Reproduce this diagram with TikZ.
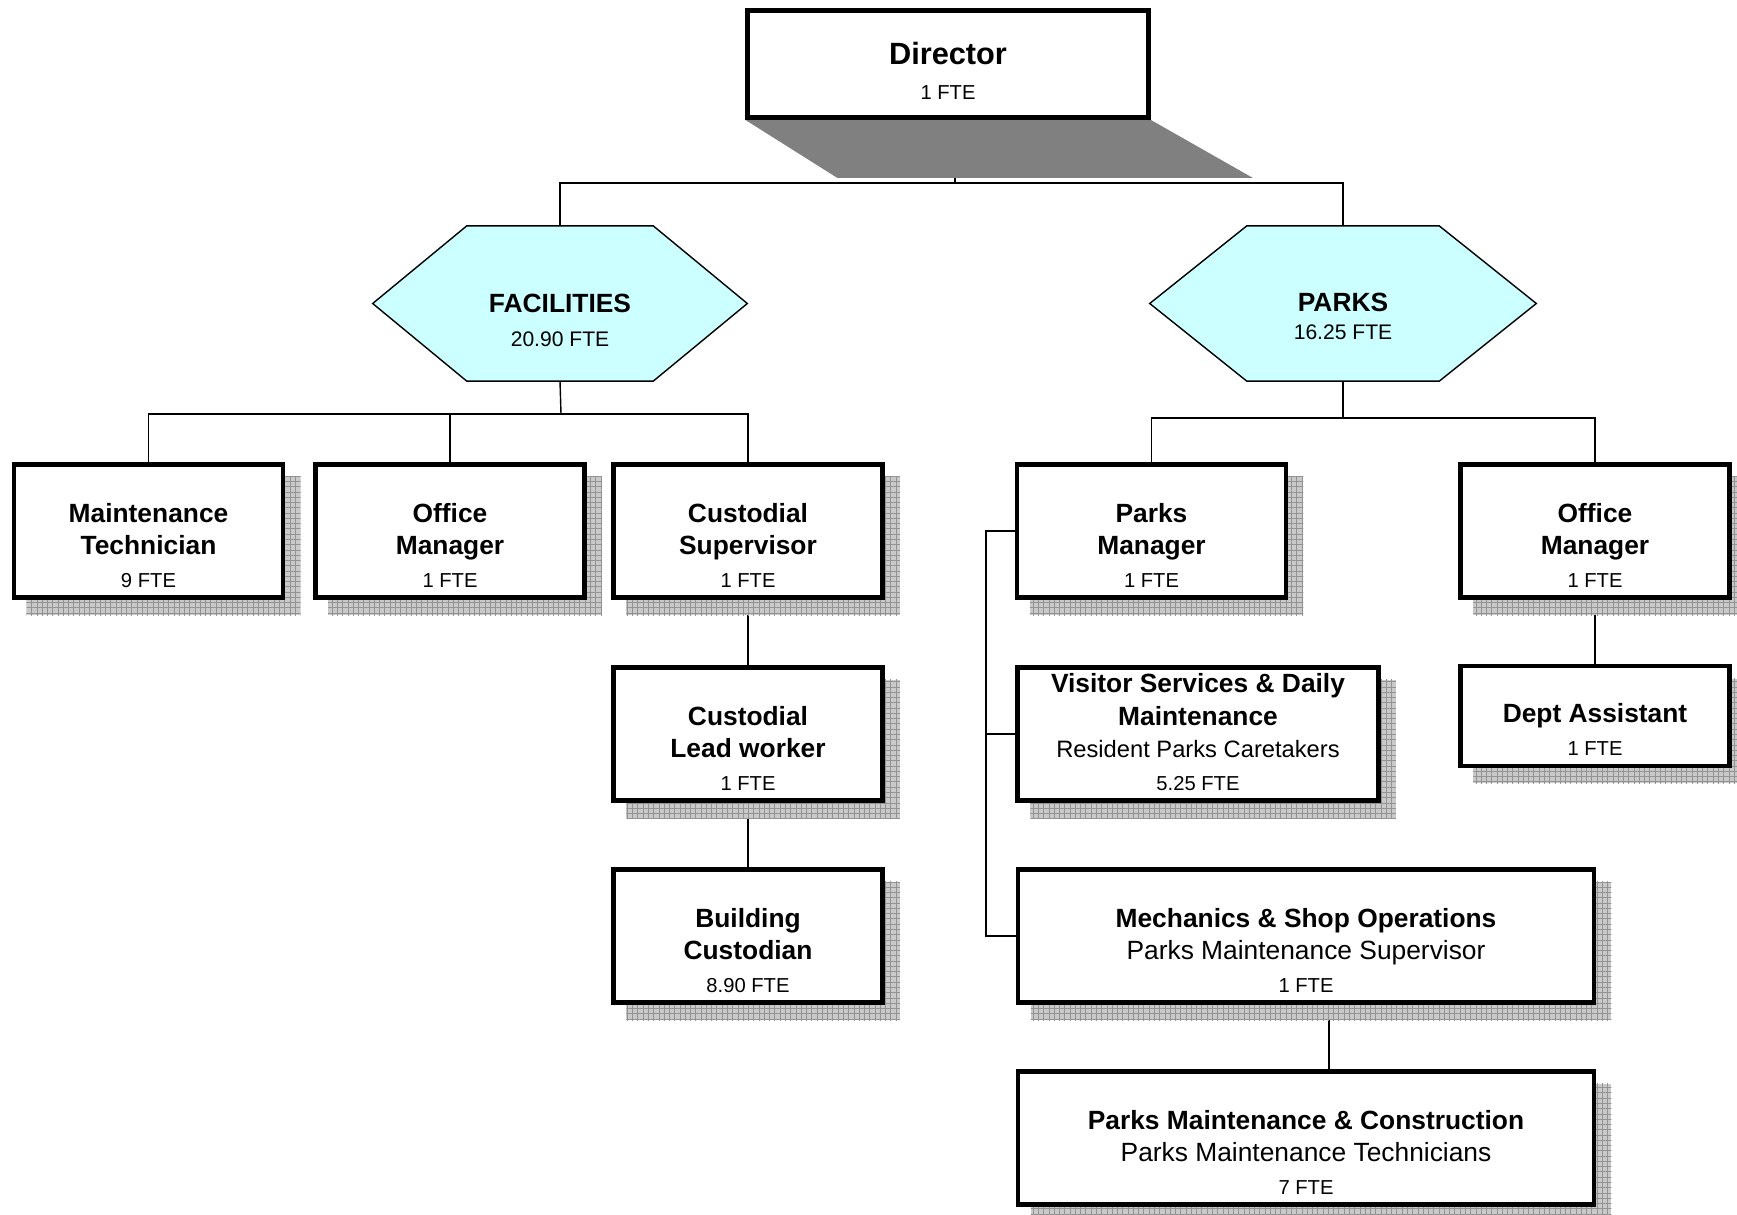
\documentclass[tikz,border=0pt]{standalone}
\usepackage{fontspec}
\setmainfont{Liberation Sans}
\usetikzlibrary{backgrounds,patterns}
\definecolor{hexcyan}{HTML}{CCFFFF}
\newcommand{\ttl}[1]{\fontsize{15}{18}\selectfont\bfseries #1}
\newcommand{\fte}[1]{\fontsize{11.5}{14}\selectfont #1}
\newcommand{\hfte}[1]{\fontsize{12}{14}\selectfont #1}
\newcommand{\subt}[2][15]{\fontsize{#1}{18}\selectfont #2}
\newcommand{\orgtxt}[2][18.5pt]{{\fontsize{10}{#1}\selectfont\begin{tabular}[b]{@{}c@{}}#2\end{tabular}}}
\tikzset{
  orgbox/.style={draw, line width=2.6pt, fill=white, inner sep=0pt, minimum width=5.38cm, text height=70pt, text depth=6pt},
  widebox/.style={orgbox, minimum width=11.52cm},
  hexnode/.style={inner sep=0pt, minimum width=7.48cm},
  hexfill/.style={fill=hexcyan, draw, line width=0.8pt},
  conn/.style={line width=0.8pt},
  boxshadow/.style={fill=gray!42, postaction={pattern=grid, pattern color=gray!85}},
  dirshadow/.style={fill=gray},
}
\begin{document}
\begin{tikzpicture}[x=0.02cm, y=-0.02cm]
\useasboundingbox (0,0) rectangle (1737,1214);
\node[orgbox, minimum width=8.02cm, text height=50.5pt, text depth=10.5pt] (director) at (948,64) {\orgtxt[19.5pt]{{\fontsize{17.5}{20}\selectfont\bfseries Director}\\ \fte{1 FTE}}};
\node[hexnode, text height=68.6pt, text depth=19.3pt] (fac) at (560,303.5) {\orgtxt[19.8pt]{\ttl{FACILITIES}\\ \hfte{20.90 FTE}}};
\node[hexnode, minimum width=7.72cm, text height=64.7pt, text depth=23.2pt] (parks) at (1343,303.5) {\orgtxt[16.4pt]{\ttl{PARKS}\\ \hfte{16.25 FTE}}};
\node[orgbox] (mt) at (148.5,531) {\orgtxt{\ttl{Maintenance}\\ \ttl{Technician}\\ \fte{9 FTE}}};
\node[orgbox] (om1) at (450,531) {\orgtxt{\ttl{Office}\\ \ttl{Manager}\\ \fte{1 FTE}}};
\node[orgbox] (cs) at (748,531) {\orgtxt{\ttl{Custodial}\\ \ttl{Supervisor}\\ \fte{1 FTE}}};
\node[orgbox] (clw) at (748,734) {\orgtxt{\ttl{Custodial}\\ \ttl{Lead worker}\\ \fte{1 FTE}}};
\node[orgbox] (bc) at (748,936) {\orgtxt{\ttl{Building}\\ \ttl{Custodian}\\ \fte{8.90 FTE}}};
\node[orgbox] (pm) at (1151.5,531) {\orgtxt{\ttl{Parks}\\ \ttl{Manager}\\ \fte{1 FTE}}};
\node[orgbox] (om2) at (1595,531) {\orgtxt{\ttl{Office}\\ \ttl{Manager}\\ \fte{1 FTE}}};
\node[orgbox, text height=50.7pt] (da) at (1595,716) {\orgtxt{\ttl{Dept Assistant}\\ \fte{1 FTE}}};
\node[orgbox, minimum width=7.22cm] (vs) at (1198,734) {\orgtxt{\ttl{Visitor Services \& Daily}\\ \ttl{Maintenance}\\ \subt[13.5]{Resident Parks Caretakers}\\ \fte{5.25 FTE}}};
\node[widebox] (ms) at (1306,936) {\orgtxt{\ttl{Mechanics \& Shop Operations}\\ \subt{Parks Maintenance Supervisor}\\ \fte{1 FTE}}};
\node[widebox] (pmc) at (1306,1138) {\orgtxt{\ttl{Parks Maintenance \& Construction}\\ \subt{Parks Maintenance Technicians}\\ \fte{7 FTE}}};
\coordinate (topbus) at (955,183);
\coordinate (facbus) at (561,414);
\coordinate (parkbus) at (1343,418);
\coordinate (pmleft) at (986,0);
\begin{scope}[on background layer]
\filldraw[hexfill] (fac.west) -- ([xshift=1.88cm]fac.north west) -- ([xshift=-1.88cm]fac.north east) -- (fac.east) -- ([xshift=-1.88cm]fac.south east) -- ([xshift=1.88cm]fac.south west) -- cycle;
\filldraw[hexfill] (parks.west) -- ([xshift=1.94cm]parks.north west) -- ([xshift=-1.94cm]parks.north east) -- (parks.east) -- ([xshift=-1.94cm]parks.south east) -- ([xshift=1.94cm]parks.south west) -- cycle;
\draw[conn] (director.south -| topbus) -- (topbus);
\draw[conn] (fac.north) |- (topbus) -| (parks.north);
\draw[conn] (fac.south) -- (facbus);
\draw[conn] (mt.north) |- (facbus) -| (cs.north);
\draw[conn] (om1.north) -- (om1.north |- facbus);
\draw[conn] (parks.south) -- (parkbus);
\draw[conn] (pm.north) |- (parkbus) -| (om2.north);
\draw[conn] (cs) -- (clw) -- (bc);
\draw[conn] (om2) -- (da);
\draw[conn] (pm.west) -- (pm.west -| pmleft) -- (ms.west -| pmleft) -- (ms.west);
\draw[conn] (vs.west -| pmleft) -- (vs.west);
\draw[conn] ([xshift=0.46cm]ms.south) -- ([xshift=0.46cm]pmc.north);
\fill[dirshadow] (director.south west) -- (director.south east) -- ([shift={(102,58)}]director.south east) -- ([shift={(92,58)}]director.south west) -- cycle;
\foreach \n in {mt,om1,cs,clw,bc,pm,om2,da,vs,ms,pmc}
  \path[boxshadow] ([shift={(15,15)}]\n.north west) rectangle ([shift={(15,15)}]\n.south east);
\end{scope}
\end{tikzpicture}
\end{document}
